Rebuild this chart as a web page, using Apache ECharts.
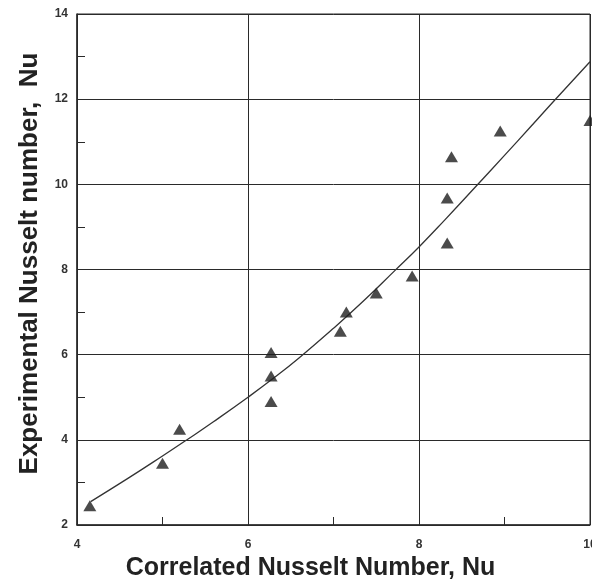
<!DOCTYPE html>
<html>
<head>
<meta charset="utf-8">
<script src="https://cdn.jsdelivr.net/npm/echarts@6/dist/echarts.min.js"></script>
<style>
  html, body { margin: 0; padding: 0; background: #fff; }
  #main { width: 592px; height: 583px; }
</style>
</head>
<body>
<div id="main"></div>
<script>
var chartDom = document.getElementById('main');
var myChart = echarts.init(chartDom);

// measured points (correlated Nu, experimental Nu)
var correlatedNu = [4.15, 5.0, 5.2, 6.27, 6.27, 6.27, 7.08, 7.15, 7.5, 7.92, 8.33, 8.33, 8.38, 8.95, 10.0];
var experimentalNu = [2.45, 3.45, 4.25, 6.05, 5.5, 4.9, 6.55, 7.0, 7.45, 7.85, 8.62, 9.68, 10.65, 11.25, 11.5];

// fitted curve
var curveX = [4.16, 4.6, 5.0, 5.3, 5.6, 6.0, 6.3, 6.6, 7.0, 7.35, 7.72, 8.0, 8.3, 8.67, 9.0, 9.3, 9.57, 10.0];
var curveY = [2.55, 3.1, 3.62, 4.02, 4.43, 5.0, 5.45, 5.93, 6.62, 7.26, 7.98, 8.53, 9.16, 9.96, 10.68, 11.34, 11.94, 12.88];

var xTicks = [4, 6, 8, 10];
var yTicks = [2, 4, 6, 8, 10, 12, 14];

var points = correlatedNu.map(function (x, i) { return [x, experimentalNu[i]]; });
var curve = curveX.map(function (x, i) { return [x, curveY[i]]; });

var ink = '#2a2a2a';

var option = {
  animation: false,
  backgroundColor: '#fff',
  grid: {
    left: 77,
    right: 2,
    top: 14,
    bottom: 58,
    outerBoundsMode: 'none',
    show: true,
    borderColor: ink,
    borderWidth: 1
  },
  xAxis: {
    type: 'value',
    min: xTicks[0],
    max: xTicks[xTicks.length - 1],
    interval: 2,
    name: 'Correlated Nusselt Number, Nu',
    nameLocation: 'middle',
    nameGap: 28,
    nameTextStyle: {
      fontFamily: 'Liberation Sans, Arial',
      fontSize: 25,
      fontWeight: 'bold',
      color: '#222',
      padding: [0, 46, 0, 0]
    },
    axisLine: { onZero: false, lineStyle: { color: ink, width: 1.5 } },
    axisTick: { show: false, inside: true },
    minorTick: { show: true, splitNumber: 2, length: 8, lineStyle: { color: ink, width: 1 } },
    axisLabel: {
      margin: 14,
      fontFamily: 'Liberation Sans, Arial',
      fontSize: 12,
      fontWeight: 'bold',
      color: '#333'
    },
    splitLine: { show: true, lineStyle: { color: ink, width: 1 } }
  },
  yAxis: {
    type: 'value',
    min: yTicks[0],
    max: yTicks[yTicks.length - 1],
    interval: 2,
    name: 'Experimental Nusselt number,  Nu',
    nameLocation: 'middle',
    nameGap: 34,
    nameTextStyle: {
      fontFamily: 'Liberation Sans, Arial',
      fontSize: 26,
      fontWeight: 'bold',
      color: '#222',
      padding: [0, 0, 0, 12]
    },
    axisLine: { onZero: false, lineStyle: { color: ink, width: 1.5 } },
    axisTick: { show: false, inside: true },
    minorTick: { show: true, splitNumber: 2, length: 8, lineStyle: { color: ink, width: 1 } },
    axisLabel: {
      margin: 9,
      fontFamily: 'Liberation Sans, Arial',
      fontSize: 12,
      fontWeight: 'bold',
      color: '#333'
    },
    splitLine: { show: true, lineStyle: { color: ink, width: 1 } }
  },
  series: [
    {
      name: 'Correlation',
      type: 'line',
      data: curve,
      smooth: true,
      showSymbol: false,
      lineStyle: { color: '#333', width: 1.3 },
      z: 2
    },
    {
      name: 'Data',
      type: 'scatter',
      data: points,
      symbol: 'triangle',
      symbolSize: [13, 11],
      itemStyle: { color: '#1e1e1e' },
      z: 3
    }
  ]
};

myChart.setOption(option);
</script>
</body>
</html>
